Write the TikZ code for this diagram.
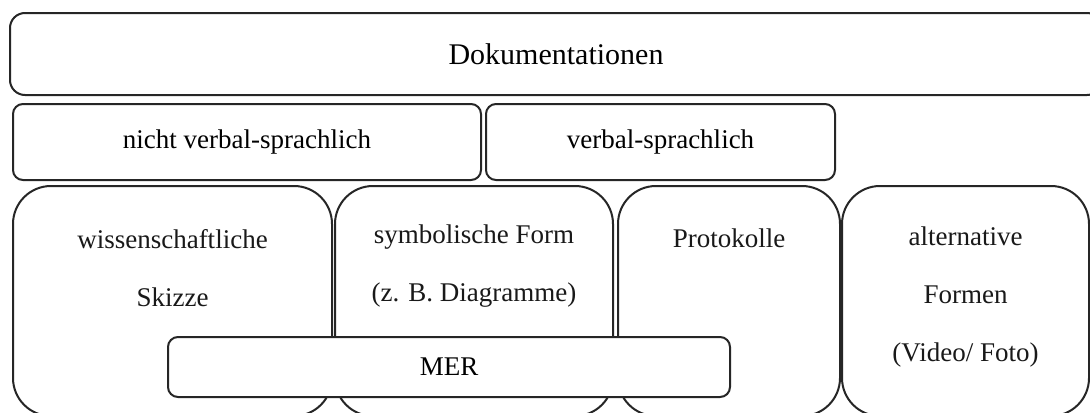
\documentclass[tikz,border=0pt]{standalone}
\usepackage{fontspec}
\setmainfont{Liberation Serif}
\usetikzlibrary{positioning}

\begin{document}
\begin{tikzpicture}[
  x=0.5pt, y=-0.5pt,
  box/.style={draw=black!85, line width=1pt, fill=white, inner sep=0pt},
  head/.style={box, rounded corners=7.5pt, minimum width=546pt, minimum height=41pt,
    font=\fontsize{15}{18}\selectfont},
  kind/.style={box, rounded corners=5pt, minimum height=38pt, font=\fontsize{13.5}{16}\selectfont},
  form/.style={box, rounded corners=19pt, minimum height=115pt},
  txt/.style={align=center, font=\fontsize{13.5}{29}\selectfont, text=black!90}
]
  \useasboundingbox (0,0) rectangle (1090,412);
  \clip (0,0) rectangle (1090,412);

  % top level
  \node[head] (doku) at (556,54) {Dokumentationen};

  % second row
  \node[kind, minimum width=234pt] (nonverbal) at (247,142) {nicht verbal-sprachlich};
  \node[kind, minimum width=174.5pt] (verbal) at (660.5,142) {verbal-sprachlich};

  % third row
  \node[form, minimum width=159.5pt] (skizze) at (172.5,301) {};
  \node[form, minimum width=139pt] (symbol) at (474,301) {};
  \node[form, minimum width=111pt] (protokoll) at (729,301) {};
  \node[form, minimum width=123.5pt] (alt) at (965.5,301) {};

  \node[txt] (skizze-t) at (172.5,268) {wissenschaftliche\\Skizze};
  \node[txt] (symbol-t) at (474,266) {symbolische Form\\(z. B. Diagramme)};
  \node[txt] (protokoll-t) at (729,238) {Protokolle};
  \node[txt] (alt-t) at (965.5,297) {alternative\\Formen\\(Video/ Foto)};

  % overlapping box
  \node[kind, minimum width=281pt, minimum height=30pt] (mer) at (449,367) {MER};
\end{tikzpicture}
\end{document}
